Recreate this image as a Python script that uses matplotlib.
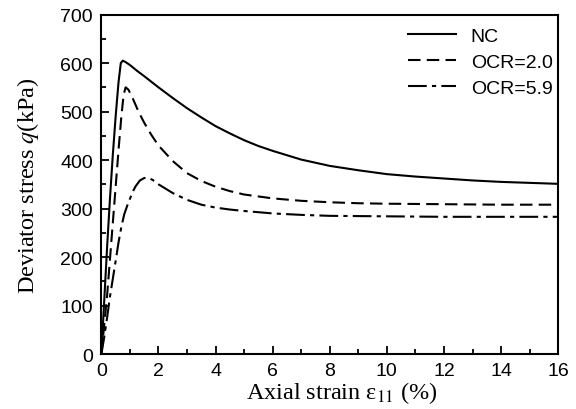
import matplotlib
matplotlib.use("Agg")
import matplotlib.pyplot as plt
from matplotlib.ticker import MultipleLocator

# ---- data ----
nc_x = [0, 0.1, 0.2, 0.3, 0.4, 0.5, 0.6, 0.68, 0.75, 0.85, 1.0, 1.25, 1.5, 2, 2.5, 3, 3.5,
        4, 4.5, 5, 5.5, 6, 7, 8, 9, 10, 11, 12, 13, 14, 15, 16]
nc_q = [0, 110, 220, 320, 410, 490, 560, 600, 605, 602, 596, 584, 573, 550, 528, 507, 488,
        470, 455, 441, 429, 419, 401, 388, 379, 371, 366, 362, 358, 355, 353, 351]

ocr2_x = [0, 0.1, 0.2, 0.3, 0.4, 0.5, 0.6, 0.7, 0.78, 0.85, 0.95, 1.1, 1.3, 1.5, 1.75, 2,
          2.5, 3, 3.5, 4, 4.5, 5, 6, 7, 8, 9, 10, 12, 14, 16]
ocr2_q = [0, 60, 120, 195, 270, 345, 420, 490, 535, 550, 545, 527, 500, 477, 452, 430,
          398, 373, 357, 345, 336, 329, 321, 316, 313, 311, 310, 309, 308, 308]

ocr59_x = [0, 0.1, 0.2, 0.3, 0.4, 0.5, 0.6, 0.7, 0.8, 0.9, 1.0, 1.1, 1.2, 1.35, 1.5, 1.65,
           1.8, 2, 2.5, 3, 3.5, 4, 4.5, 5, 6, 7, 8, 10, 12, 14, 16]
ocr59_q = [0, 35, 75, 118, 155, 192, 230, 262, 288, 305, 320, 335, 346, 358, 363, 363,
           359, 350, 332, 318, 308, 302, 298, 295, 290, 287, 285, 284, 283, 283, 283]

labels = ["NC", "OCR=2.0", "OCR=5.9"]
x_ticks = [0, 2, 4, 6, 8, 10, 12, 14, 16]
y_ticks = [0, 100, 200, 300, 400, 500, 600, 700]

plt.rcParams['mathtext.fontset'] = 'stix'

fig = plt.figure(figsize=(5.76, 4.10), dpi=100)
ax = fig.add_axes([0.176, 0.134, 0.793, 0.828])

lw = 1.5
ax.plot(nc_x, nc_q, color='black', lw=lw, ls='-', label=labels[0])
ax.plot(ocr2_x, ocr2_q, color='black', lw=lw, ls=(0, (6, 3)), label=labels[1])
ax.plot(ocr59_x, ocr59_q, color='black', lw=lw, ls=(0, (9, 2.5, 2, 2.5)), label=labels[2])

ax.set_xlim(0, 16)
ax.set_ylim(0, 700)
ax.set_xticks(x_ticks)
ax.set_yticks(y_ticks)
ax.xaxis.set_minor_locator(MultipleLocator(1))
ax.yaxis.set_minor_locator(MultipleLocator(50))
ax.tick_params(which='both', direction='in', top=False, right=False, width=1.3)
ax.tick_params(which='major', length=6, labelsize=14, pad=6)
ax.tick_params(which='minor', length=3.5)
for lab in ax.get_xticklabels() + ax.get_yticklabels():
    lab.set_family('Liberation Sans')
for s in ax.spines.values():
    s.set_linewidth(1.5)

ax.set_xlabel(r"Axial strain ε$_{11}$ (%)", family='Liberation Serif', fontsize=17.5, labelpad=0)
ax.xaxis.label.set_x(0.527)
ax.set_ylabel(r"Deviator stress $q$(kPa)", family='Liberation Serif', fontsize=17.5, labelpad=14)

leg = ax.legend(loc='upper right', frameon=False, prop={'family': 'Liberation Sans', 'size': 14},
                handlelength=2.5, handletextpad=0.75, labelspacing=0.42,
                borderaxespad=0.0, bbox_to_anchor=(1.005, 0.985))

fig.savefig("out.png", dpi=100)
